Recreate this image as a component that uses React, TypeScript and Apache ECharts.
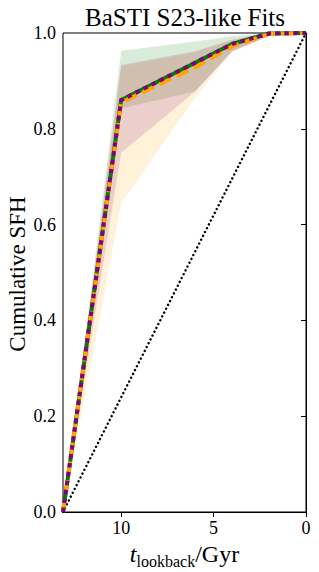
import React, { useEffect, useRef } from 'react';
import * as echarts from 'echarts';

// lookback times (Gyr) of the SFH nodes
const ages = [13.15, 10, 6, 4, 2, 0];

// median cumulative SFH for each fit
const greenMedian = [0, 0.86, 0.938, 0.977, 0.999, 1];
const orangeMedian = [0, 0.855, 0.928, 0.972, 0.998, 1];
const purpleMedian = [0, 0.86, 0.938, 0.977, 0.999, 1];

// uncertainty bands
const greenLower = [0, 0.843, 0.878, 0.962, 0.995, 1];
const greenUpper = [0, 0.963, 0.982, 0.993, 1, 1];
const orangeLower = [0, 0.645, 0.865, 0.96, 0.993, 1];
const orangeUpper = [0, 0.93, 0.96, 0.985, 1, 1];
const purpleLower = [0, 0.75, 0.878, 0.962, 0.993, 1];
const purpleUpper = [0, 0.933, 0.962, 0.986, 1, 1];

// constant SFH reference
const refAges = [13.15, 0];
const refCum = [0, 1];

const xTicks = [0, 5, 10];
const yTicks = [0, 0.2, 0.4, 0.6, 0.8, 1.0];

const FONT = '"Liberation Serif", "DejaVu Serif", serif';

function band(lower: number[], upper: number[], color: string) {
  return {
    type: 'custom',
    silent: true,
    z: 1,
    data: [[ages[0], 0]],
    renderItem: (params: any, api: any) => {
      const pts: number[][] = [];
      for (let i = 0; i < ages.length; i++) pts.push(api.coord([ages[i], upper[i]]));
      for (let i = ages.length - 1; i >= 0; i--) pts.push(api.coord([ages[i], lower[i]]));
      return {
        type: 'polygon',
        shape: { points: pts },
        style: { fill: color, opacity: 0.15 },
      };
    },
  };
}

function line(vals: number[], color: string, type: any, z: number) {
  return {
    type: 'line',
    data: ages.map((a, i) => [a, vals[i]]),
    showSymbol: false,
    symbol: 'none',
    z,
    lineStyle: { color, width: 4, type, cap: 'butt', join: 'round' },
  };
}

export default function App() {
  const ref = useRef<HTMLDivElement>(null);
  useEffect(() => {
    const chart = echarts.init(ref.current!, null, { renderer: 'svg' });
    const option: any = {
      animation: false,
      backgroundColor: '#fff',
      grid: {
        left: 63,
        right: 13,
        top: 33,
        bottom: 60,
        show: true,
        borderColor: '#000',
        borderWidth: 1,
        containLabel: false,
        outerBoundsMode: 'none',
      },
      graphic: [
        {
          type: 'text',
          x: 185,
          y: 17,
          style: {
            text: 'BaSTI S23-like Fits',
            fontFamily: FONT,
            fontSize: 25,
            fill: '#000',
            textAlign: 'center',
            textVerticalAlign: 'middle',
          },
        },
        {
          type: 'text',
          x: 17,
          y: 274,
          rotation: Math.PI / 2,
          style: {
            text: 'Cumulative SFH',
            fontFamily: FONT,
            fontSize: 23,
            fill: '#000',
            textAlign: 'center',
            textVerticalAlign: 'middle',
          },
        },
      ],
      xAxis: {
        type: 'value',
        inverse: true,
        min: 0,
        max: 13.15,
        interval: 5,
        splitLine: { show: false },
        axisLine: { show: true, lineStyle: { color: '#000', width: 1 } },
        axisTick: { show: true, inside: false, length: 5, customValues: xTicks, lineStyle: { color: '#000' } },
        axisLabel: {
          customValues: xTicks,
          margin: 7,
          fontFamily: FONT,
          fontSize: 18,
          color: '#000',
          formatter: (v: number) => String(v),
        },
        name: '{t|t}{s|lookback}{n|/Gyr}',
        nameLocation: 'middle',
        nameGap: 19,
        nameTextStyle: {
          rich: {
            t: { fontFamily: FONT, fontStyle: 'italic', fontSize: 24, color: '#000', lineHeight: 28, verticalAlign: 'top' },
            s: { fontFamily: FONT, fontSize: 16, color: '#000', lineHeight: 16, verticalAlign: 'bottom' },
            n: { fontFamily: FONT, fontSize: 24, color: '#000', lineHeight: 28, verticalAlign: 'top' },
          },
        },
      },
      yAxis: {
        type: 'value',
        min: 0,
        max: 1,
        interval: 0.2,
        splitLine: { show: false },
        axisLine: { show: true, lineStyle: { color: '#000', width: 1 } },
        axisTick: { show: true, inside: false, length: 5, customValues: yTicks, lineStyle: { color: '#000' } },
        axisLabel: {
          customValues: yTicks,
          margin: 7,
          fontFamily: FONT,
          fontSize: 18,
          color: '#000',
          formatter: (v: number) => v.toFixed(1),
        },
      },
      series: [
        band(greenLower, greenUpper, '#008000'),
        band(orangeLower, orangeUpper, '#ffa500'),
        band(purpleLower, purpleUpper, '#800080'),
        {
          type: 'line',
          data: refAges.map((a, i) => [a, refCum[i]]),
          showSymbol: false,
          symbol: 'none',
          z: 2,
          lineStyle: { color: '#000', width: 2.4, type: [0.1, 4.2], cap: 'round' },
        },
        line(greenMedian, '#008000', 'solid', 3),
        line(orangeMedian, '#ffa500', [13, 6], 4),
        line(purpleMedian, '#800080', [4.5, 4.5], 5),
      ],
    };
    chart.setOption(option);
    return () => chart.dispose();
  }, []);
  return (
    <div
      ref={ref}
      style={{ position: 'fixed', left: 0, top: 0, width: 319, height: 572, background: '#fff' }}
    />
  );
}
